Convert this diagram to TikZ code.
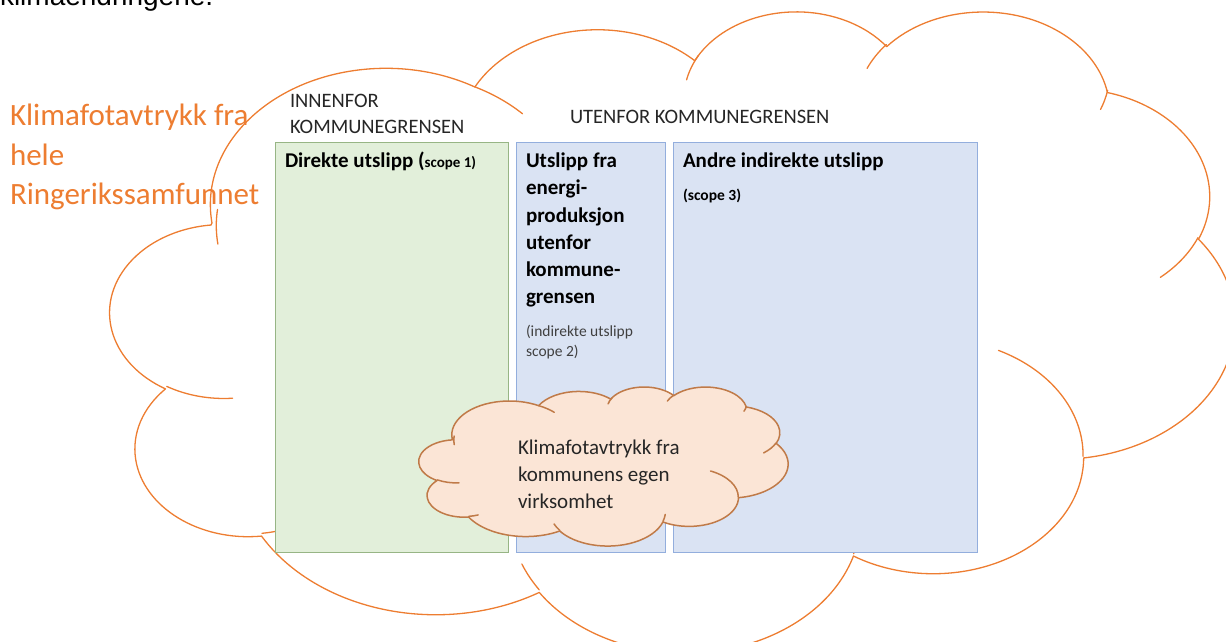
\documentclass[tikz,border=0pt]{standalone}
\usepackage{fontspec}
\setmainfont{Carlito}
\newfontfamily\arialfont{Liberation Sans}
\definecolor{accorange}{HTML}{ED7D31}
\definecolor{greenfill}{HTML}{E2EFDA}
\definecolor{greenline}{HTML}{97B585}
\definecolor{bluefill}{HTML}{DAE3F3}
\definecolor{blueline}{HTML}{93AEDD}
\definecolor{peachfill}{HTML}{FBE5D6}
\definecolor{peachline}{HTML}{C07A48}
\definecolor{textdark}{HTML}{262626}
\definecolor{textgray}{HTML}{404040}
\makeatletter
% frame of a cloud: X0 Y0 W H (in picture units)
\newcommand\cldframe[4]{%
  \pgfmathsetmacro\cld@xo{#1}\pgfmathsetmacro\cld@yo{#2}%
  \pgfmathsetmacro\cld@sx{(#3)/432}\pgfmathsetmacro\cld@sy{(#4)/432}}
% start point in preset units divided by 100 (0..432)
\newcommand\cldstart[2]{%
  \pgfmathsetmacro\cld@px{#1}\pgfmathsetmacro\cld@py{#2}%
  \pgfmathsetmacro\cld@X{(\cld@xo)+(\cld@px)*(\cld@sx)}%
  \pgfmathsetmacro\cld@Y{(\cld@yo)+(\cld@py)*(\cld@sy)}%
  \xdef\cldpath{(\cld@X,\cld@Y)}}
\newcommand\cld@calc[4]{%
  \pgfmathsetmacro\cld@a{(#1)/100}%
  \pgfmathsetmacro\cld@b{(#2)/100}%
  \pgfmathsetmacro\cld@ts{atan2((\cld@a)*sin(#3),(\cld@b)*cos(#3))}%
  \pgfmathsetmacro\cld@te{atan2((\cld@a)*sin((#3)+(#4)),(\cld@b)*cos((#3)+(#4)))}%
  \pgfmathsetmacro\cld@te{(\cld@ts)+mod((\cld@te)-(\cld@ts)+720,360)}%
  \pgfmathsetmacro\cld@cx{(\cld@px)-(\cld@a)*cos(\cld@ts)}%
  \pgfmathsetmacro\cld@cy{(\cld@py)-(\cld@b)*sin(\cld@ts)}%
  \pgfmathsetmacro\cld@px{(\cld@cx)+(\cld@a)*cos(\cld@te)}%
  \pgfmathsetmacro\cld@py{(\cld@cy)+(\cld@b)*sin(\cld@te)}%
  \pgfmathsetmacro\cld@A{(\cld@a)*(\cld@sx)}%
  \pgfmathsetmacro\cld@B{(\cld@b)*(\cld@sy)}%
  \pgfmathsetmacro\cld@s{-1*(\cld@ts)}%
  \pgfmathsetmacro\cld@e{-1*(\cld@te)}%
  \edef\cld@arcspec{arc[start angle=\cld@s, end angle=\cld@e, x radius=\cld@A pt, y radius=\cld@B pt]}}
\newcommand\cldarc[4]{\cld@calc{#1}{#2}{#3}{#4}\xdef\cldpath{\cldpath\space\cld@arcspec}}
\newcommand\cldcrease[7]{\cldstart{#2}{#3}\cld@calc{#4}{#5}{#6}{#7}%
  \edef\cld@tmp{\noexpand\draw[#1] \cldpath\space\cld@arcspec;}\cld@tmp}
\newcommand\cldoutline{%
  \cldstart{39.00}{143.70}%
  \cldarc{6753}{9190}{-190.48748}{123.78053}%
  \cldarc{5333}{7267}{-144.10238}{89.94523}%
  \cldarc{4365}{5945}{-145.80792}{99.72302}%
  \cldarc{4857}{6595}{-130.98607}{117.24173}%
  \cldarc{5333}{7273}{-78.70888}{109.02692}%
  \cldarc{6775}{9220}{-46.26725}{130.269}%
  \cldarc{5785}{7867}{0.62502}{114.03333}%
  \cldarc{6752}{9215}{22.4516}{115.17255}%
  \cldarc{7720}{10543}{66.24263}{75.71102}%
  \cldarc{4360}{5918}{-274.94208}{146.73557}%
  \cldarc{4345}{5945}{-246.8285}{152.51885}}
\newcommand\cldcreases[1]{%
  \cldcrease{#1}{46.93}{261.77}{4345}{5945}{86.742}{26.4295}%
  \cldcrease{#1}{69.28}{348.99}{4360}{5918}{73.61047}{11.44747}%
  \cldcrease{#1}{164.78}{390.90}{6752}{9215}{137.62415}{14.0811}%
  \cldcrease{#1}{288.27}{347.51}{6752}{9215}{6.45327}{15.99835}%
  \cldcrease{#1}{341.29}{229.54}{5785}{7867}{-70.29235}{70.91737}%
  \cldcrease{#1}{417.98}{153.54}{5333}{7273}{30.31803}{27.7515}%
  \cldcrease{#1}{383.24}{54.26}{4857}{6595}{13.74433}{14.8589}%
  \cldcrease{#1}{290.78}{39.52}{4857}{6595}{-149.18145}{18.19537}%
  \cldcrease{#1}{221.41}{47.20}{4365}{5945}{-163.49427}{20.7463}%
  \cldcrease{#1}{140.00}{51.92}{6753}{9190}{-70.00987}{16.9655}%
  \cldcrease{#1}{41.27}{157.89}{6753}{9190}{-190.48748}{19.77642}}
\makeatother
\tikzset{
  bigcloudline/.style={draw=accorange, line width=1.3pt, line join=round, line cap=round},
  smallcloudline/.style={draw=peachline, line width=1.5pt, line join=round, line cap=round},
  greenbox/.style={rectangle, draw=greenline, fill=greenfill, line width=1.2pt, inner sep=0pt, anchor=north west},
  bluebox/.style={rectangle, draw=blueline, fill=bluefill, line width=1.2pt, inner sep=0pt, anchor=north west},
  lbl/.style={anchor=base west, inner sep=0pt, outer sep=0pt},
  orangetxt/.style={lbl, text=accorange, font=\fontsize{31}{37}\selectfont},
  captxt/.style={lbl, text=textdark, font=\fontsize{20.5}{25}\selectfont},
  titletxt/.style={lbl, text=black, font=\fontsize{21}{26}\selectfont\bfseries},
  smallbold/.style={lbl, text=black, font=\fontsize{15.5}{19}\selectfont\bfseries},
  notetxt/.style={lbl, text=textgray, font=\fontsize{15.5}{19}\selectfont},
  cloudtxt/.style={lbl, text=textdark, font=\fontsize{21}{26}\selectfont},
}
\begin{document}
\begin{tikzpicture}[x=1pt,y=-1pt]
\useasboundingbox (0,0) rectangle (1226,642);
\begin{scope}
  \clip (0,0) rectangle (1226,642);
  \node[lbl, text=black, font=\arialfont\fontsize{28}{32}\selectfont] (toptext) at (0,6) {klimaendringene.};
  % big cloud
  \cldframe{110.5}{9.8}{1124}{641}
  \cldoutline
  \edef\cldtmp{\noexpand\draw[bigcloudline] \cldpath\space -- cycle;}\cldtmp
  \cldcreases{bigcloudline}
\end{scope}
% left orange label
\node[orangetxt] (t1) at (10,125) {Klimafotavtrykk fra};
\node[orangetxt] (t2) at (10,165) {hele};
\node[orangetxt] (t3) at (10,204) {Ringerikssamfunnet};
% headings
\node[captxt] (inn1) at (290,107) {INNENFOR};
\node[captxt] (inn2) at (290,133) {KOMMUNEGRENSEN};
\node[captxt] (ute) at (570,123) {UTENFOR KOMMUNEGRENSEN};
% boxes
\node[greenbox, minimum width=233pt, minimum height=410pt] (direct) at (275,142) {};
\node[bluebox, minimum width=149pt, minimum height=410pt] (energy) at (516,142) {};
\node[bluebox, minimum width=304pt, minimum height=410pt] (other) at (673,142) {};
% box texts
\node[titletxt] (dtitle) at (285,167) {Direkte utslipp ({\fontsize{15}{18}\selectfont scope 1)}};
\node[titletxt] (e1) at (526,167) {Utslipp fra};
\node[titletxt] (e2) at (526,194.5) {energi-};
\node[titletxt] (e3) at (526,222) {produksjon};
\node[titletxt] (e4) at (526,249) {utenfor};
\node[titletxt] (e5) at (526,276.5) {kommune-};
\node[titletxt] (e6) at (526,303.5) {grensen};
\node[notetxt] (n1) at (526,336) {(indirekte utslipp};
\node[notetxt] (n2) at (526,356) {scope 2)};
\node[titletxt] (otitle) at (683,167) {Andre indirekte utslipp};
\node[smallbold] (oscope) at (683,200) {(scope 3)};
% small cloud
\cldframe{419}{386.5}{369}{159}
\cldoutline
\edef\cldtmp{\noexpand\draw[smallcloudline, fill=peachfill] \cldpath\space -- cycle;}\cldtmp
\cldcreases{smallcloudline}
\node[cloudtxt] (c1) at (518,454) {Klimafotavtrykk fra};
\node[cloudtxt] (c2) at (518,481) {kommunens egen};
\node[cloudtxt] (c3) at (518,508) {virksomhet};
\end{tikzpicture}
\end{document}
